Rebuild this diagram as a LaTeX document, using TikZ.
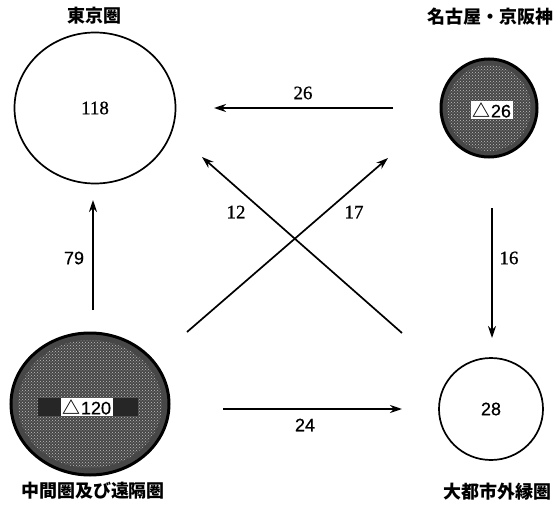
\documentclass[tikz,border=0pt]{standalone}
\usepackage{fontspec}
\setmainfont{Liberation Serif}
\newfontfamily\jp{Noto Sans CJK JP}
\newfontfamily\numfont[FakeBold=0.8]{Liberation Serif}
\newfontfamily\sansnum[FakeBold=0.6]{Liberation Sans}
\usetikzlibrary{arrows.meta,shapes.geometric,patterns}
\begin{document}
\begin{tikzpicture}[x=1pt,y=-1pt,
 ring/.style={draw=black, line width=1.7pt, ellipse, inner sep=0pt},
 darkring/.style={draw=black, line width=3pt, fill=black!72, ellipse, inner sep=0pt},
 flow/.style={line width=1.7pt, -{Stealth[length=12pt,width=8pt]}},
 num/.style={font=\numfont\fontsize{19}{22}\selectfont},
 snum/.style={font=\sansnum\fontsize{18}{22}\selectfont},
 place/.style={font=\jp\bfseries\fontsize{18}{22}\selectfont},
 tag/.style={fill=white, inner sep=1.5pt, font=\sansnum\fontsize{18}{22}\selectfont}
]
\useasboundingbox (0,0) rectangle (555,506);

% circles
\node[ring, minimum width=161pt, minimum height=151pt, num] (tokyo) at (95,108) {118};
\node[darkring, minimum width=96pt, minimum height=98pt] (nagoya) at (489,108) {};
\node[darkring, minimum width=158pt, minimum height=142pt] (inter) at (90,404) {};
\node[ring, minimum width=104pt, minimum height=102pt, snum] (outer) at (491,409) {28};

% texture of the dark circles
\fill[pattern=crosshatch dots, pattern color=white!75!black] (nagoya.center) ellipse [x radius=42, y radius=43];
\fill[pattern=crosshatch dots, pattern color=white!75!black] (inter.center) ellipse [x radius=72, y radius=64];

% value tags
\fill[black!85] (38,398) rectangle (138,416);
\node[tag] (interval) at (87,407) {{\jp\bfseries △}120};
\node[tag] (nagoyaval) at (492,110) {{\jp\bfseries △}26};

% place names
\node[place] (tokyoname) at (94,16) {東京圏};
\node[place] (nagoyaname) at (490,17) {名古屋・京阪神};
\node[place] (intername) at (93,491) {中間圏及び遠隔圏};
\node[place] (outername) at (497,492) {大都市外縁圏};

% connector ends
\coordinate (a26) at (393,108); \coordinate (b26) at (214,108);
\coordinate (a12) at (402,333); \coordinate (b12) at (202,157);
\coordinate (a17) at (187,332); \coordinate (b17) at (388,158);
\coordinate (a79) at (93,310);  \coordinate (b79) at (93,200);
\coordinate (a16) at (492,208); \coordinate (b16) at (492,338);
\coordinate (a24) at (223,409); \coordinate (b24) at (402,409);

\draw[flow] (a26) -- (b26);
\draw[flow] (a12) -- (b12);
\draw[flow] (a17) -- (b17);
\draw[flow] (a79) -- (b79);
\draw[flow] (a16) -- (b16);
\draw[flow] (a24) -- (b24);

% flow labels
\node[num] (l26) at (303,93) {26};
\node[num] (l12) at (236,212) {12};
\node[num] (l17) at (354,212) {17};
\node[snum] (l79) at (74,258) {79};
\node[num] (l16) at (509,258) {16};
\node[snum] (l24) at (305,425) {24};
\end{tikzpicture}
\end{document}
